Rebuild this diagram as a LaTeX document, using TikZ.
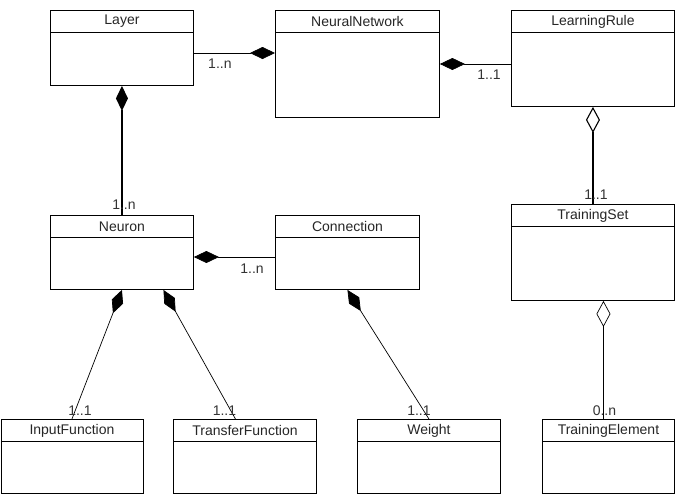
\documentclass[tikz,border=0pt]{standalone}
\usepackage{fontspec}
\setmainfont{Liberation Sans}
\usetikzlibrary{arrows.meta}

\begin{document}
\begin{tikzpicture}[
  x=1pt, y=-1pt,
  font=\fontsize{14}{16}\selectfont,
  classbox/.style={draw, line width=0.9pt, anchor=north west, inner sep=0pt,
    path picture={\draw[line width=0.9pt] ([yshift=-22pt]path picture bounding box.north west) -- ([yshift=-22pt]path picture bounding box.north east);}},
  title/.style={anchor=center, yshift=-11.5pt, inner sep=0pt, text=black!85},
  comp/.style={{Diamond[length=25pt,width=12pt]}-, line width=0.7pt},
  aggr/.style={{Diamond[open,length=26pt,width=14pt]}-, line width=0.7pt},
  mult/.style={inner sep=0pt, text=black!80}
]
\useasboundingbox (0,0) rectangle (684,501);

% classes
\node[classbox, minimum width=143pt, minimum height=75pt, label={[title]north:Layer}] (layer) at (50,10) {};
\node[classbox, minimum width=164pt, minimum height=107pt, label={[title]north:NeuralNetwork}] (nn) at (275,10) {};
\node[classbox, minimum width=163pt, minimum height=96pt, label={[title]north:LearningRule}] (lr) at (511,10) {};
\node[classbox, minimum width=143pt, minimum height=74pt, label={[title]north:Neuron}] (neuron) at (50,215) {};
\node[classbox, minimum width=144pt, minimum height=74pt, label={[title]north:Connection}] (conn) at (275,215) {};
\node[classbox, minimum width=163pt, minimum height=96pt, label={[title]north:TrainingSet}] (ts) at (511,204) {};
\node[classbox, minimum width=142pt, minimum height=74pt, label={[title]north:InputFunction}] (infn) at (0.5,419) {};
\node[classbox, minimum width=143pt, minimum height=74pt, label={[title]north:TransferFunction}] (tfn) at (173,419) {};
\node[classbox, minimum width=143pt, minimum height=74pt, label={[title]north:Weight}] (weight) at (357,419) {};
\node[classbox, minimum width=132pt, minimum height=74pt, label={[title]north:TrainingElement}] (te) at (542,419) {};

% associations
\draw[comp] ([yshift=-43pt]nn.north west) -- ([yshift=-43pt]layer.north east)
  node[mult, pos=1, xshift=26pt, yshift=-11pt] {1..n};
\draw[comp] ([yshift=-54pt]nn.north east) -- ([yshift=-54pt]lr.north west)
  node[mult, pos=1, xshift=-22pt, yshift=-11pt] {1..1};
\draw[comp, line width=1.1pt] (layer.south) -- (neuron.north)
  node[mult, pos=1, xshift=2pt, yshift=10pt] {1..n};
\draw[comp] ([yshift=-42pt]neuron.north east) -- ([yshift=-42pt]conn.north west)
  node[mult, pos=1, xshift=-23pt, yshift=-12pt] {1..n};
\draw[aggr, line width=1.1pt] (lr.south) -- (ts.north)
  node[mult, pos=1, xshift=3pt, yshift=9pt] {1..1};
\draw[aggr] ([xshift=10.5pt]ts.south) -- ([xshift=10.5pt]ts.south |- te.north)
  node[mult, pos=1, xshift=1pt, yshift=8pt] {0..n};
\draw[comp] (neuron.south) -- (infn.north)
  node[mult, pos=1, xshift=8pt, yshift=8pt] {1..1};
\draw[comp] ([xshift=41.5pt]neuron.south) -- ([xshift=-9.5pt]tfn.north)
  node[mult, pos=1, xshift=-11pt, yshift=8pt] {1..1};
\draw[comp] (conn.south) -- (weight.north)
  node[mult, pos=1, xshift=-10pt, yshift=8pt] {1..1};
\end{tikzpicture}
\end{document}
